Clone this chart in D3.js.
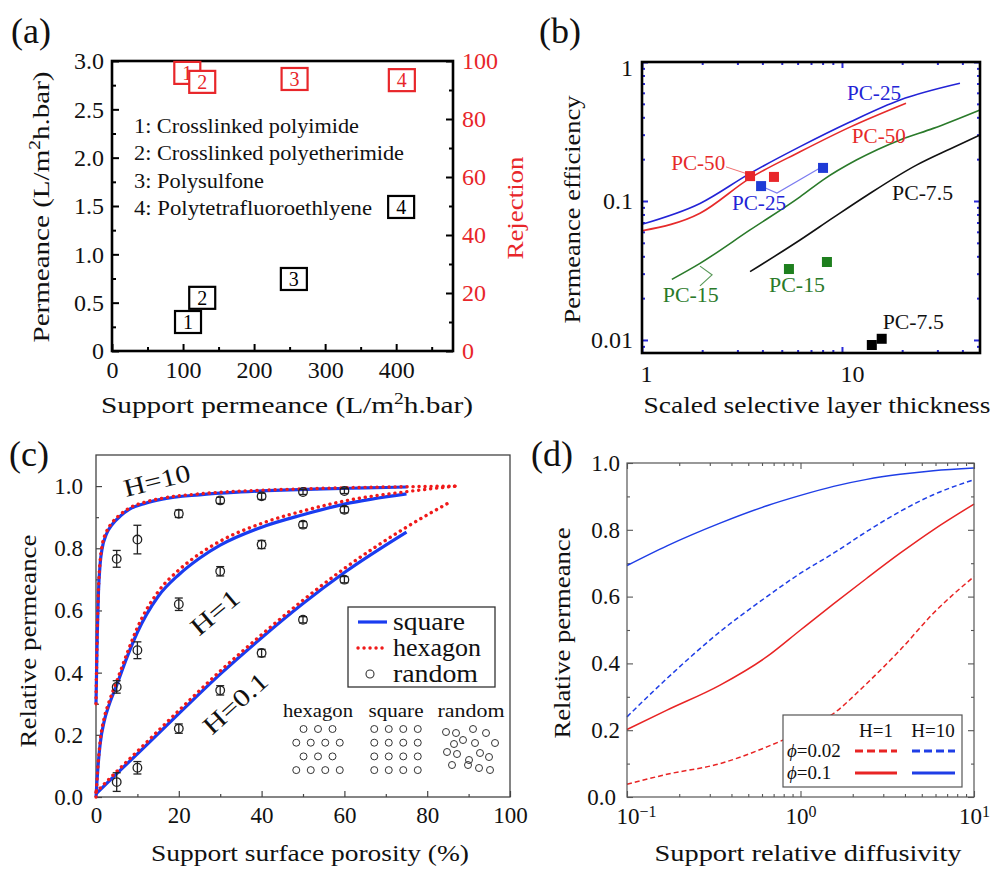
<!DOCTYPE html>
<html><head><meta charset="utf-8">
<script src="https://cdn.jsdelivr.net/npm/d3@7"></script>
<style>body{margin:0;background:#fff} svg{display:block}</style>
</head><body><svg id="c" width="994" height="869"></svg>
<script>
// ================= DATA =================
// (a)
const aBoxLabels = ["1","2","3","4"];
const aSupportPerm = [107, 127, 256, 407];
const aPermeance = [0.30, 0.55, 0.745, 1.49];
const aRejSupport = [106, 127, 257, 408];
const aRejection = [95.9, 92.8, 93.8, 93.4];
const aMaterials = ["1: Crosslinked polyimide","2: Crosslinked polyetherimide","3: Polysulfone","4: Polytetrafluoroethlyene"];
const aXTicks = [0,100,200,300,400];
const aXMinor = [50,150,250,350,450];
const aYTicks = [0,0.5,1.0,1.5,2.0,2.5,3.0];
const aYMinor = [0.25,0.75,1.25,1.75,2.25,2.75];
const aRTicks = [0,20,40,60,80,100];
const aRMinor = [10,30,50,70,90];

// (b)
const b25X = [1.0,1.95,3.47,6.17,10.96,19.5,38.9];
const b25Y = [0.068,0.096,0.158,0.246,0.37,0.533,0.703];
const b50X = [1.0,1.95,3.47,6.17,10.96,20.9];
const b50Y = [0.061,0.0816,0.146,0.226,0.34,0.505];
const b15X = [1.41,1.95,3.47,6.17,8.05,11.8,19.5,28.6,49];
const b15Y = [0.0273,0.0356,0.0619,0.107,0.142,0.197,0.275,0.333,0.452];
const b75X = [3.47,6.17,9.04,13.3,23.7,34.7,49];
const b75Y = [0.031,0.0524,0.0759,0.1096,0.182,0.237,0.298];
const bRedSqX = [3.47,4.57],   bRedSqY = [0.151,0.149];
const bBlueSqX = [3.94,8.04],  bBlueSqY = [0.128,0.173];
const bGreenSqX = [5.43,8.41], bGreenSqY = [0.0324,0.0364];
const bBlackSqX = [14.1,15.8], bBlackSqY = [0.0092,0.0102];
const bLabelText = ["PC-25","PC-50","PC-50","PC-25","PC-7.5","PC-15","PC-15","PC-7.5"];
const bLabelKey  = ["blue","red","red","blue","black","green","green","black"];
const bLabelX = [10.6,11.2,1.40,2.82,17.8,1.27,4.32,16.0];
const bLabelY = [0.533,0.261,0.167,0.0861,0.1016,0.0188,0.0221,0.012];
const bLeadRed = [[2.63,0.176],[3.39,0.156]];
const bLeadBlue = [[4.03,0.126],[4.73,0.114],[7.76,0.173]];
const bLeadGreen = [[1.95,0.034],[2.24,0.0294],[1.95,0.0245]];
const bXMajor = [1,10], bXMinor = [2,3,4,5,6,7,8,9,20,30,40];
const bYMajor = [0.01,0.1,1], bYMinor = [0.009,0.02,0.03,0.04,0.05,0.06,0.07,0.08,0.09,0.2,0.3,0.4,0.5,0.6,0.7,0.8,0.9];

// (c)
const cH10SqX = [0,0.3,0.6,1,1.5,2.5,4,6,8,12,16,25,35,45,55,65,75];
const cH10SqY = [0.30,0.52,0.66,0.75,0.80,0.845,0.878,0.905,0.925,0.945,0.958,0.972,0.981,0.987,0.991,0.994,0.997];
const cH10HxX = [0,0.3,0.6,1,1.5,2.5,4,6,8,12,16,25,35,45,55,65,75,80,87];
const cH10HxY = [0.30,0.53,0.67,0.76,0.81,0.852,0.884,0.91,0.929,0.949,0.961,0.975,0.984,0.989,0.993,0.996,0.998,0.999,1.0];
const cH1SqX = [0,0.5,1,2,3,5,7.5,10,15,20,25,30,40,50,60,75];
const cH1SqY = [0,0.10,0.17,0.245,0.29,0.36,0.45,0.53,0.645,0.715,0.768,0.81,0.868,0.908,0.942,0.975];
const cH1HxX = [0,0.5,1,2,3,5,7.5,10,15,20,25,30,40,50,60,75,80,87];
const cH1HxY = [0,0.105,0.178,0.255,0.30,0.372,0.462,0.545,0.66,0.73,0.782,0.823,0.88,0.92,0.952,0.982,0.99,1.0];
const cH01SqX = [0,5,10,20,30,40,50,60,75];
const cH01SqY = [0.01,0.075,0.139,0.268,0.395,0.512,0.622,0.722,0.852];
const cH01HxX = [0,5,10,20,30,40,50,60,75,86];
const cH01HxY = [0.015,0.082,0.147,0.278,0.405,0.522,0.633,0.735,0.868,0.952];
const cRandX = [5,10,20,30,40,50,60];
const cRandH10 = [0.766,0.828,0.911,0.954,0.967,0.981,0.984];
const cErrH10 = [0.027,0.046,0.012,0.01,0.01,0.008,0.008];
const cRandH1 = [0.354,0.472,0.62,0.726,0.812,0.876,0.924];
const cErrH1 = [0.02,0.027,0.02,0.015,0.013,0.01,0.01];
const cRandH01 = [0.048,0.094,0.22,0.343,0.463,0.57,0.699];
const cErrH01 = [0.03,0.02,0.015,0.015,0.012,0.01,0.01];
const cHText = ["H=10","H=1","H=0.1"];
const cHX = [14.7,28.7,33.6], cHY = [1.019,0.595,0.302], cHRot = [-14,-40,-42];
const cXTicks = [0,20,40,60,80,100], cXMinor = [10,30,50,70,90];
const cYTicks = [0,0.2,0.4,0.6,0.8,1.0], cYMinor = [0.1,0.3,0.5,0.7,0.9];
const cLegend = ["square","hexagon","random"];
const cInset = ["hexagon","square","random"];
const cRandomDots = [[-25,15],[-15,16],[2,12],[15,16],[-8,23],[-17,27],[4,26],[24,26],[-24,35],[-14,37],[9,36],[-2,43],[18,40],[-19,48],[-3,48],[8,51],[19,53]];

// (d)
const dX = [0.1,0.17,0.344,0.64,1.0,1.55,2.41,3.75,5.83,10];
const dH10p1  = [0.693,0.752,0.82,0.872,0.903,0.93,0.951,0.966,0.977,0.985];
const dH10p02 = [0.24,0.355,0.495,0.60,0.67,0.73,0.795,0.855,0.905,0.95];
const dH1p1   = [0.202,0.26,0.335,0.42,0.50,0.578,0.655,0.73,0.80,0.877];
const dH1p02  = [0.038,0.068,0.10,0.15,0.195,0.25,0.34,0.44,0.55,0.66];
const dXTicks = [0.1,1,10], dXMinor = [0.2,0.3,0.4,0.5,0.6,0.7,0.8,0.9,2,3,4,5,6,7,8,9];
const dYTicks = [0,0.2,0.4,0.6,0.8,1.0], dYMinor = [0.1,0.3,0.5,0.7,0.9];

// ================= DRAW =================
const SERIF = '"Liberation Serif", "Times New Roman", serif';
const svg = d3.select("#c");
svg.append("rect").attr("width",994).attr("height",869).attr("fill","#fff");

function axis(gen, tx, ty, color, sw, size, fill){
  const g = svg.append("g").attr("transform",`translate(${tx},${ty})`).call(gen);
  g.select(".domain").remove();
  g.selectAll(".tick line").attr("stroke",color).attr("stroke-width",sw);
  g.selectAll(".tick text").attr("font-family",SERIF).attr("font-size",size).attr("fill",fill||"#111");
  return g;
}
function text(x,y,s,o={}){
  const t = svg.append("text").attr("x",x).attr("y",y).attr("font-family",SERIF)
    .attr("font-size",o.size||24).attr("fill",o.fill||"#111").attr("text-anchor",o.anchor||"start");
  if(o.rot!==undefined) t.attr("transform",`rotate(${o.rot},${x},${y})`);
  if(o.dy) t.attr("dy",o.dy);
  if(o.len) t.attr("textLength",o.len).attr("lengthAdjust","spacingAndGlyphs");
  t.text(s);
  return t;
}
const zip = (xs,ys)=> xs.map((x,i)=>[x,ys[i]]);

// ---------- Panel (a) ----------
const A = {l:112, r:453, t:61, b:351};
const ax = d3.scaleLinear().domain([0,480]).range([A.l,A.r]);
const ayL = d3.scaleLinear().domain([0,3]).range([A.b,A.t]);
const ayR = d3.scaleLinear().domain([0,100]).range([A.b,A.t]);
const fmtA = d=> d===0 ? "0" : d3.format(".1f")(d);
axis(d3.axisLeft(ayL).tickValues(aYTicks).tickSize(-7).tickPadding(8).tickFormat(fmtA), A.l,0,"#000",2,24);
axis(d3.axisLeft(ayL).tickValues(aYMinor).tickSize(-4).tickFormat(""), A.l,0,"#000",2,24);
axis(d3.axisRight(ayR).tickValues(aRTicks).tickSize(-7).tickPadding(9).tickFormat(d3.format("d")), A.r,0,"#000",2,24,"#e8262a");
axis(d3.axisRight(ayR).tickValues(aRMinor).tickSize(-4).tickFormat(""), A.r,0,"#000",2,24);
axis(d3.axisBottom(ax).tickValues(aXTicks).tickSize(-7).tickPadding(10).tickFormat(d3.format("d")), 0,A.b,"#000",2,24);
axis(d3.axisBottom(ax).tickValues(aXMinor).tickSize(-4).tickFormat(""), 0,A.b,"#000",2,24);
svg.append("rect").attr("x",A.l).attr("y",A.t).attr("width",A.r-A.l).attr("height",A.b-A.t)
  .attr("fill","none").attr("stroke","#000").attr("stroke-width",2.6);

const aLen = [225,270,130,238];
aMaterials.forEach((m,i)=> text(A.l+22, A.t+72+i*27.3, m, {size:20, len:aLen[i]}));

function boxes(xs, ys, yscale, color){
  xs.forEach((x,i)=>{
    const cx = ax(x), cy = yscale(ys[i]);
    svg.append("rect").attr("x",cx-13).attr("y",cy-11).attr("width",26).attr("height",22)
      .attr("fill","#fff").attr("stroke",color).attr("stroke-width",2.2);
    text(cx, cy, aBoxLabels[i], {size:20, anchor:"middle", fill:color, dy:"0.34em"});
  });
}
boxes(aSupportPerm, aPermeance, ayL, "#000");
boxes(aRejSupport, aRejection, ayR, "#e8262a");

text(11, 43, "(a)", {size:36});
{
  const t = text(41, (A.t+A.b)/2+1, "", {size:24, anchor:"middle", rot:-90, dy:"0.35em", len:271});
  t.append("tspan").text("Permeance (L/m");
  t.append("tspan").attr("dy",-9).attr("font-size",16).text("2");
  t.append("tspan").attr("dy",9).text("h.bar)");
  const t2 = text(287, 413, "", {size:24, anchor:"middle", len:372});
  t2.append("tspan").text("Support permeance (L/m");
  t2.append("tspan").attr("dy",-9).attr("font-size",16).text("2");
  t2.append("tspan").attr("dy",9).text("h.bar)");
}
text(515, 208, "Rejection", {size:24, anchor:"middle", rot:-90, fill:"#e8262a", dy:"0.35em", len:103});

// ---------- Panel (b) ----------
const B = {l:642, r:980, t:62, b:353};
const bx = d3.scaleLog().domain([1,49]).range([B.l,B.r]);
const by = d3.scaleLog().domain([0.00806,1]).range([B.b,B.t]);
const tickBlue = "#2a2ad8";
const gbl = axis(d3.axisLeft(by).tickValues(bYMajor).tickSize(-6).tickPadding(9).tickFormat(d=> d===1?"1":d===0.1?"0.1":"0.01"), B.l,0,tickBlue,2,24);
gbl.selectAll(".tick text").filter(d=>d===1).attr("dy","0.55em");
axis(d3.axisLeft(by).tickValues(bYMinor).tickSize(-3).tickFormat(""), B.l,0,tickBlue,2,24);
axis(d3.axisRight(by).tickValues(bYMajor).tickSize(-6).tickFormat(""), B.r,0,tickBlue,2,24);
axis(d3.axisRight(by).tickValues(bYMinor).tickSize(-3).tickFormat(""), B.r,0,tickBlue,2,24);
const gbb = axis(d3.axisBottom(bx).tickValues(bXMajor).tickSize(-6).tickPadding(12).tickFormat(d3.format("d")), 0,B.b,tickBlue,2,24);
gbb.selectAll(".tick text").attr("text-anchor","start").attr("dx",-2);
axis(d3.axisBottom(bx).tickValues(bXMinor).tickSize(-3).tickFormat(""), 0,B.b,tickBlue,2,24);
axis(d3.axisTop(bx).tickValues(bXMajor).tickSize(-6).tickFormat(""), 0,B.t,tickBlue,2,24);
axis(d3.axisTop(bx).tickValues(bXMinor).tickSize(-3).tickFormat(""), 0,B.t,tickBlue,2,24);

const bCol = {blue:"#2323d6", red:"#e62a2a", green:"#2a7a2a", black:"#111"};
const bLine = d3.line().x(d=>bx(d[0])).y(d=>by(d[1])).curve(d3.curveMonotoneX);
[[b15X,b15Y,"green"],[b75X,b75Y,"black"],[b50X,b50Y,"red"],[b25X,b25Y,"blue"]].forEach(([xs,ys,k])=>{
  svg.append("path").attr("d",bLine(zip(xs,ys))).attr("fill","none").attr("stroke",bCol[k]).attr("stroke-width",1.6);
});
const lead = d3.line().x(d=>bx(d[0])).y(d=>by(d[1]));
svg.append("path").attr("d",lead(bLeadRed)).attr("fill","none").attr("stroke","#f07070").attr("stroke-width",1);
svg.append("path").attr("d",lead(bLeadBlue)).attr("fill","none").attr("stroke","#7c7cf0").attr("stroke-width",1.2);
svg.append("path").attr("d",lead(bLeadGreen)).attr("fill","none").attr("stroke","#5a9a5a").attr("stroke-width",1.2);
[[bRedSqX,bRedSqY,"#e8262a"],[bBlueSqX,bBlueSqY,"#1f3bd6"],[bGreenSqX,bGreenSqY,"#1e7f1e"],[bBlackSqX,bBlackSqY,"#000"]].forEach(([xs,ys,c])=>{
  xs.forEach((x,i)=> svg.append("rect").attr("x",bx(x)-5).attr("y",by(ys[i])-5).attr("width",10).attr("height",10).attr("fill",c));
});
const bLen = {"PC-25":54,"PC-50":54,"PC-15":56,"PC-7.5":61};
bLabelText.forEach((s,i)=> text(bx(bLabelX[i]), by(bLabelY[i]), s, {size:20, fill:bCol[bLabelKey[i]], len:bLen[s]}));
svg.append("rect").attr("x",B.l).attr("y",B.t).attr("width",B.r-B.l).attr("height",B.b-B.t)
  .attr("fill","none").attr("stroke","#000").attr("stroke-width",2.6);
text(539, 43, "(b)", {size:36});
text(572, (B.t+B.b)/2+2, "Permeance efficiency", {size:24, anchor:"middle", rot:-90, dy:"0.35em", len:228});
text(817, 413, "Scaled selective layer thickness", {size:24, anchor:"middle", len:347});

// ---------- Panel (c) ----------
const C = {l:96, r:510, t:455, b:797};
const cx = d3.scaleLinear().domain([0,100]).range([C.l,C.r]);
const cy = d3.scaleLinear().domain([0,1.1]).range([C.b,C.t]);
const gray = "#444";
axis(d3.axisLeft(cy).tickValues(cYTicks).tickSize(-6).tickPadding(13).tickFormat(d3.format(".1f")), C.l,0,gray,1.2,23);
axis(d3.axisLeft(cy).tickValues(cYMinor).tickSize(-3).tickFormat(""), C.l,0,gray,1.2,23);
axis(d3.axisBottom(cx).tickValues(cXTicks).tickSize(-6).tickPadding(10).tickFormat(d3.format("d")), 0,C.b,gray,1.2,23);
axis(d3.axisBottom(cx).tickValues(cXMinor).tickSize(-3).tickFormat(""), 0,C.b,gray,1.2,23);
svg.append("rect").attr("x",C.l).attr("y",C.t).attr("width",C.r-C.l).attr("height",C.b-C.t)
  .attr("fill","none").attr("stroke",gray).attr("stroke-width",1.3);

const cBlue = "#1a3cf0", cRed = "#f01a1a";
const cLine = d3.line().x(d=>cx(d[0])).y(d=>cy(d[1])).curve(d3.curveMonotoneX);
[[cH10SqX,cH10SqY],[cH1SqX,cH1SqY],[cH01SqX,cH01SqY]].forEach(([xs,ys])=>{
  svg.append("path").attr("d",cLine(zip(xs,ys))).attr("fill","none").attr("stroke",cBlue).attr("stroke-width",3.2);
});
[[cH10HxX,cH10HxY],[cH1HxX,cH1HxY],[cH01HxX,cH01HxY]].forEach(([xs,ys])=>{
  svg.append("path").attr("d",cLine(zip(xs,ys))).attr("fill","none").attr("stroke",cRed).attr("stroke-width",3.4)
    .attr("stroke-linecap","round").attr("stroke-dasharray","0.1,5.9");
});
[[cRandH10,cErrH10],[cRandH1,cErrH1],[cRandH01,cErrH01]].forEach(([ys,es])=>{
  cRandX.forEach((x,i)=>{
    const px = cx(x), y0 = cy(ys[i]-es[i]), y1 = cy(ys[i]+es[i]);
    const g = svg.append("g").attr("stroke","#222").attr("stroke-width",1.3).attr("fill","none");
    g.append("line").attr("x1",px).attr("x2",px).attr("y1",y0).attr("y2",y1);
    g.append("line").attr("x1",px-4).attr("x2",px+4).attr("y1",y0).attr("y2",y0);
    g.append("line").attr("x1",px-4).attr("x2",px+4).attr("y1",y1).attr("y2",y1);
    g.append("circle").attr("cx",px).attr("cy",cy(ys[i])).attr("r",4.3);
  });
});
const cHLen = [68,56,78];
cHText.forEach((s,i)=> text(cx(cHX[i]), cy(cHY[i]), s, {size:25, anchor:"middle", rot:cHRot[i], dy:"0.35em", len:cHLen[i]}));

// legend (c)
{
  const lx = 348, ly = 607;
  svg.append("rect").attr("x",lx).attr("y",ly).attr("width",147).attr("height",80)
    .attr("fill","#fff").attr("stroke","#333").attr("stroke-width",1.3);
  const lLen = [72,88,85];
  cLegend.forEach((s,i)=>{
    const yy = ly+15+i*26;
    if(i===0) svg.append("line").attr("x1",lx+10).attr("x2",lx+39).attr("y1",yy).attr("y2",yy).attr("stroke",cBlue).attr("stroke-width",3.2);
    if(i===1) svg.append("line").attr("x1",lx+10).attr("x2",lx+40).attr("y1",yy).attr("y2",yy).attr("stroke",cRed).attr("stroke-width",3.4)
      .attr("stroke-linecap","round").attr("stroke-dasharray","0.1,5.9");
    if(i===2) svg.append("circle").attr("cx",lx+22).attr("cy",yy).attr("r",4).attr("fill","none").attr("stroke","#333").attr("stroke-width",1.1);
    text(lx+45, yy, s, {size:25, dy:"0.3em", len:lLen[i]});
  });
}
// inset lattices
{
  const centers = [318, 396, 471], ty = 717;
  const iLen = [70,55,67];
  cInset.forEach((s,i)=> text(centers[i], ty, s, {size:19, anchor:"middle", len:iLen[i]}));
  const dot = (x,y)=> svg.append("circle").attr("cx",x).attr("cy",y).attr("r",3.5).attr("fill","none").attr("stroke","#333").attr("stroke-width",1);
  const rows = [0,1,2,3], sp = 14.5, rsp = 13.7;
  rows.forEach(r=>{
    const n = r%2===0 ? 3 : 4, off = r%2===0 ? -sp : -1.5*sp;
    for(let k=0;k<n;k++) dot(centers[0]+off+k*sp, ty+12+r*rsp);
    for(let k=0;k<4;k++) dot(centers[1]-1.5*sp+k*sp, ty+12+r*rsp);
  });
  cRandomDots.forEach(([dx,dy])=> dot(centers[2]+dx, ty+dy));
}
text(9, 466, "(c)", {size:36});
text(28, 641, "Relative permeance", {size:24, anchor:"middle", rot:-90, dy:"0.35em", len:213});
text(310, 861, "Support surface porosity (%)", {size:24, anchor:"middle", len:318});

// ---------- Panel (d) ----------
const D = {l:627, r:974, t:463, b:797};
const dxs = d3.scaleLog().domain([0.1,10]).range([D.l,D.r]);
const dys = d3.scaleLinear().domain([0,1]).range([D.b,D.t]);
const gray2 = "#555";
const gdl = axis(d3.axisLeft(dys).tickValues(dYTicks).tickSize(-6).tickPadding(7).tickFormat(d3.format(".1f")), D.l,0,gray2,1.1,23);
gdl.selectAll(".tick text").filter(d=>d===0).attr("dx",-4);
axis(d3.axisLeft(dys).tickValues(dYMinor).tickSize(-3).tickFormat(""), D.l,0,gray2,1.1,23);
axis(d3.axisRight(dys).tickValues(dYTicks).tickSize(-6).tickFormat(""), D.r,0,gray2,1.1,23);
axis(d3.axisRight(dys).tickValues(dYMinor).tickSize(-3).tickFormat(""), D.r,0,gray2,1.1,23);
const gdb = axis(d3.axisBottom(dxs).tickValues(dXTicks).tickSize(-6).tickPadding(11).tickFormat(""), 0,D.b,gray2,1.1,23);
gdb.selectAll(".tick text").each(function(d){
  const t = d3.select(this); t.text(null);
  if(d===0.1) t.attr("dx",9);
  t.append("tspan").text("10");
  t.append("tspan").attr("dy","-0.45em").attr("font-size",16).text(d3.format("d")(Math.round(Math.log10(d))));
});
axis(d3.axisBottom(dxs).tickValues(dXMinor).tickSize(-3).tickFormat(""), 0,D.b,gray2,1.1,23);
axis(d3.axisTop(dxs).tickValues(dXTicks).tickSize(-6).tickFormat(""), 0,D.t,gray2,1.1,23);
axis(d3.axisTop(dxs).tickValues(dXMinor).tickSize(-3).tickFormat(""), 0,D.t,gray2,1.1,23);

const dBlue = "#1f3ee6", dRed = "#e82424";
const dLine = d3.line().x(d=>dxs(d[0])).y(d=>dys(d[1])).curve(d3.curveMonotoneX);
[[dH10p1,dBlue,null],[dH10p02,dBlue,"5,3"],[dH1p1,dRed,null],[dH1p02,dRed,"5,3"]].forEach(([ys,c,da])=>{
  const p = svg.append("path").attr("d",dLine(zip(dX,ys))).attr("fill","none").attr("stroke",c).attr("stroke-width",1.5);
  if(da) p.attr("stroke-dasharray",da);
});
svg.append("rect").attr("x",D.l).attr("y",D.t).attr("width",D.r-D.l).attr("height",D.b-D.t)
  .attr("fill","none").attr("stroke",gray2).attr("stroke-width",1.2);
// legend (d)
{
  const lx = 783, ly = 715;
  svg.append("rect").attr("x",lx).attr("y",ly).attr("width",179).attr("height",72)
    .attr("fill","#fff").attr("stroke","#555").attr("stroke-width",1.2);
  text(lx+93, ly+22, "H=1", {size:19, anchor:"middle"});
  text(lx+150, ly+22, "H=10", {size:19, anchor:"middle"});
  const phi = (y, v)=>{
    const t = text(lx+4, y, "", {size:19});
    t.append("tspan").attr("font-style","italic").text("ϕ");
    t.append("tspan").text("="+v);
  };
  phi(ly+42, "0.02"); phi(ly+64, "0.1");
  [[ly+36,"8,4"],[ly+58,null]].forEach(([yy,da])=>{
    [[72,114,dRed],[129,172,dBlue]].forEach(([a,b,c])=>{
      const l = svg.append("line").attr("x1",lx+a).attr("x2",lx+b).attr("y1",yy).attr("y2",yy).attr("stroke",c).attr("stroke-width",3);
      if(da) l.attr("stroke-dasharray",da);
    });
  });
}
text(531, 466, "(d)", {size:36});
text(562, 633, "Relative permeance", {size:24, anchor:"middle", rot:-90, dy:"0.35em", len:211});
text(808, 861, "Support relative diffusivity", {size:24, anchor:"middle", len:307});
</script></body></html>
